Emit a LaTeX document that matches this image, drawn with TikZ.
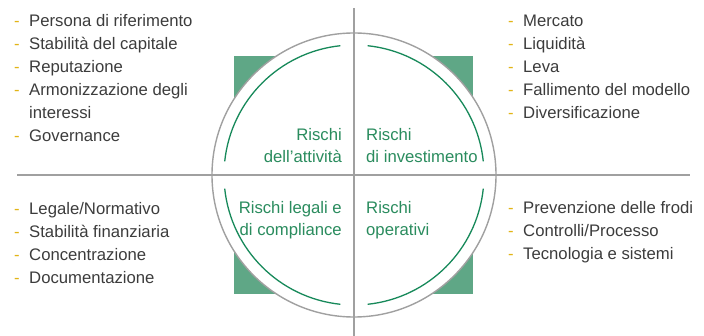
\documentclass[tikz,border=0pt]{standalone}
\usepackage{fontspec}
\setmainfont{Liberation Sans}
\definecolor{sqgreen}{HTML}{5FA786}
\definecolor{arcgreen}{HTML}{17895A}
\definecolor{txtgreen}{HTML}{2A8C5E}
\definecolor{gold}{HTML}{E2B416}
\definecolor{axisgray}{HTML}{A0A0A0}
\definecolor{txtgray}{HTML}{3C3C3C}
\newcommand{\dsh}{\makebox[15pt][l]{\textcolor{gold}{-}}}
\tikzset{
  item/.style={anchor=base west, inner sep=0pt, text=txtgray, font=\fontsize{16.7}{20}\selectfont},
  qlabel/.style={inner sep=0pt, text=txtgreen, font=\fontsize{16.7}{22}\selectfont},
  axis/.style={draw=axisgray, line width=1.6pt},
  greenarc/.style={draw=arcgreen, line width=1.3pt},
}
\begin{document}
\begin{tikzpicture}[x=1pt,y=-1pt]
\path[use as bounding box] (0,0) rectangle (704,336);
\coordinate (c) at (354,175);
% square behind circle
\fill[sqgreen] (234,56) rectangle (473,294);
% circle
\node[circle, draw=axisgray, fill=white, line width=1.4pt, minimum size=284pt, inner sep=0pt] (circ) at (c) {};
% axes
\coordinate (hl) at (17,175);
\coordinate (hr) at (690,175);
\coordinate (vt) at (354,8);
\coordinate (vb) at (354,336);
\draw[axis] (hl) -- (hr);
\draw[axis] (vt) -- (vb);
% green arcs
\foreach \a in {0,90,180,270}{
  \draw[greenarc] (c) ++(\a+6:130) arc[start angle=\a+6, end angle=\a+84, radius=130];
}
% quadrant labels
\node[qlabel, anchor=base east] (q1a) at (342,140.7) {Rischi};
\node[qlabel, anchor=base east] (q1b) at (342,162.7) {dell’attività};
\node[qlabel, anchor=base west] (q2a) at (366,140.7) {Rischi};
\node[qlabel, anchor=base west] (q2b) at (366,162.7) {di investimento};
\node[qlabel, anchor=base east] (q3a) at (342,214) {Rischi legali e};
\node[qlabel, anchor=base east] (q3b) at (342,236) {di compliance};
\node[qlabel, anchor=base west] (q4a) at (366,214) {Rischi};
\node[qlabel, anchor=base west] (q4b) at (366,236) {operativi};
% top-left list
\node[item] (tl1) at (14,27) {\dsh Persona di riferimento};
\node[item] (tl2) at (14,50) {\dsh Stabilità del capitale};
\node[item] (tl3) at (14,73) {\dsh Reputazione};
\node[item] (tl4) at (14,96) {\dsh Armonizzazione degli};
\node[item] (tl5) at (29,119) {interessi};
\node[item] (tl6) at (14,142) {\dsh Governance};
% top-right list
\node[item] (tr1) at (508,27) {\dsh Mercato};
\node[item] (tr2) at (508,50) {\dsh Liquidità};
\node[item] (tr3) at (508,73) {\dsh Leva};
\node[item] (tr4) at (508,96) {\dsh Fallimento del modello};
\node[item] (tr5) at (508,119) {\dsh Diversificazione};
% bottom-left list
\node[item] (bl1) at (14,215) {\dsh Legale/Normativo};
\node[item] (bl2) at (14,238) {\dsh Stabilità finanziaria};
\node[item] (bl3) at (14,261) {\dsh Concentrazione};
\node[item] (bl4) at (14,284) {\dsh Documentazione};
% bottom-right list
\node[item] (br1) at (508,214) {\dsh Prevenzione delle frodi};
\node[item] (br2) at (508,237) {\dsh Controlli/Processo};
\node[item] (br3) at (508,260) {\dsh Tecnologia e sistemi};
\end{tikzpicture}
\end{document}
